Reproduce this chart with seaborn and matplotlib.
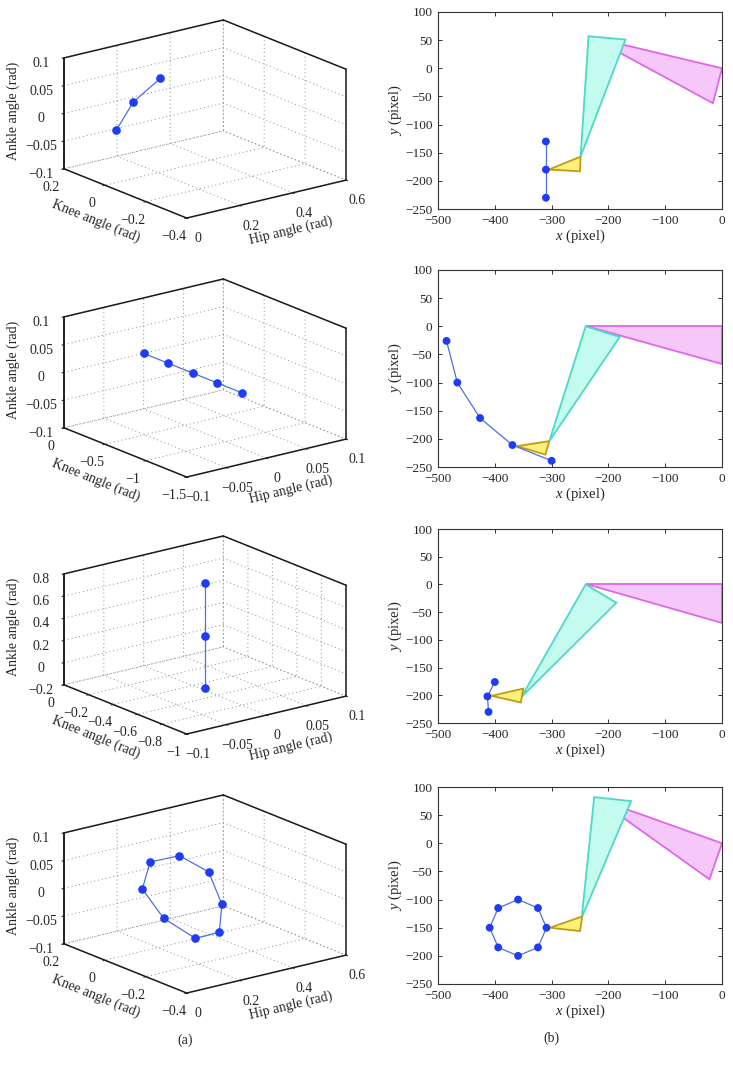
"""
关节空间轨迹 (a) 与 像素空间腿部姿态 (b) 对比图
"""

import numpy as np
import matplotlib
matplotlib.use('Agg')
import matplotlib.pyplot as plt
import seaborn as sns
from mpl_toolkits.mplot3d import proj3d

# ---------------- 数据 ----------------
# (a) 关节角轨迹 (hip, knee, ankle)
hip_1 = [0.19, 0.23, 0.27]
knee_1 = [0.19, 0.16, 0.08]
ankle_1 = [-0.05, 0.0, 0.05]

hip_2 = [0.0, 0.0, 0.0, 0.0, 0.0]
knee_2 = [0.0, -0.3, -0.6, -0.9, -1.2]
ankle_2 = [0.0, 0.0, 0.0, 0.0, 0.0]

hip_3 = [0.0, 0.0, 0.0]
knee_3 = [-0.5, -0.5, -0.5]
ankle_3 = [0.77, 0.29, -0.18]

hip_4 = [0.25, 0.36, 0.41, 0.40, 0.31, 0.19, 0.11, 0.14]
knee_4 = [-0.04, -0.04, -0.04, -0.04, -0.04, -0.04, -0.04, -0.04]
ankle_4 = [0.066, 0.024, -0.04, -0.089, -0.09, -0.04, 0.022, 0.067]

# (b) 像素坐标: 蓝色点, 足(黄), 小腿(青), 大腿(品红)
pts_x_1 = [-310, -310, -310]
pts_y_1 = [-130, -180, -230]
foot_x_1 = [-305, -249, -250]
foot_y_1 = [-180, -157, -183]
shank_x_1 = [-249, -235, -170]
shank_y_1 = [-157, 57, 51]
thigh_x_1 = [-232, 0, -16]
thigh_y_1 = [56, 0, -62]

pts_x_2 = [-485, -466, -426, -369, -300]
pts_y_2 = [-26, -100, -163, -211, -239]
foot_x_2 = [-361, -304, -311]
foot_y_2 = [-213, -204, -228]
shank_x_2 = [-304, -240, -180]
shank_y_2 = [-204, 0, -19]
thigh_x_2 = [-240, 0, 0]
thigh_y_2 = [0, 0, -67]

pts_x_3 = [-400, -413, -411]
pts_y_3 = [-176, -202, -230]
foot_x_3 = [-406, -350, -354]
foot_y_3 = [-201, -188, -213]
shank_x_3 = [-353, -240, -186]
shank_y_3 = [-203, 0, -33]
thigh_x_3 = [-240, 0, 0]
thigh_y_3 = [0, 0, -69]

pts_x_4 = [-309, -324, -359, -394, -409, -394, -359, -324]
pts_y_4 = [-150, -115, -100, -115, -150, -185, -200, -185]
foot_x_4 = [-303, -246, -250]
foot_y_4 = [-150, -130, -156]
shank_x_4 = [-247, -225, -160]
shank_y_4 = [-132, 82, 75]
thigh_x_4 = [-222, 0, -22]
thigh_y_4 = [80, 0, -64]

# 坐标轴范围与刻度
hip_lim = [(0, 0.6), (-0.1, 0.1), (-0.1, 0.1), (0, 0.6)]
hip_ticks = [[0, 0.2, 0.4, 0.6], [-0.1, -0.05, 0, 0.05, 0.1],
             [-0.1, -0.05, 0, 0.05, 0.1], [0, 0.2, 0.4, 0.6]]
knee_lim = [(-0.4, 0.2), (-1.5, 0), (-1, 0), (-0.4, 0.2)]
knee_ticks = [[-0.4, -0.2, 0, 0.2], [-1.5, -1, -0.5, 0],
              [-1, -0.8, -0.6, -0.4, -0.2, 0], [-0.4, -0.2, 0, 0.2]]
ankle_lim = [(-0.1, 0.1), (-0.1, 0.1), (-0.2, 0.8), (-0.1, 0.1)]
ankle_ticks = [[-0.1, -0.05, 0, 0.05, 0.1], [-0.1, -0.05, 0, 0.05, 0.1],
               [-0.2, 0, 0.2, 0.4, 0.6, 0.8], [-0.1, -0.05, 0, 0.05, 0.1]]

# 颜色
DOT = '#1e3cf4'
LINE = '#4f6fe2'
SHANK_FACE, SHANK_EDGE = '#c4fbef', '#4ed8c8'
THIGH_FACE, THIGH_EDGE = '#f6c8fa', '#e066ea'
FOOT_FACE, FOOT_EDGE = '#fdf07c', '#c09c16'

sns.set_theme(style='ticks')
plt.rcParams['font.family'] = ['Liberation Serif', 'DejaVu Serif']
plt.rcParams['mathtext.fontset'] = 'custom'
plt.rcParams['mathtext.rm'] = 'Liberation Serif'
plt.rcParams['mathtext.it'] = 'Liberation Serif:italic'
plt.rcParams['axes.unicode_minus'] = True
plt.rcParams['grid.linestyle'] = (0, (1, 3))
plt.rcParams['grid.color'] = '#8a8a8a'
plt.rcParams['grid.linewidth'] = 0.7

FS = 10


def fmt(v):
    s = '%g' % v
    return s.replace('-', '\u2212')


def draw_joint(ax, i, hip, knee, ankle, closed=False):
    """绘制关节空间三维轨迹"""
    xs, ys, zs = np.array(hip), np.array(knee), np.array(ankle)
    if closed:
        xs, ys, zs = np.append(xs, xs[0]), np.append(ys, ys[0]), np.append(zs, zs[0])
    ax.plot(xs, ys, zs, color=LINE, lw=0.9)
    ax.plot(hip, knee, ankle, 'o', color=DOT, ms=5.2, lw=0)

    x0, x1 = hip_lim[i]
    y0, y1 = knee_lim[i]
    z0, z1 = ankle_lim[i]
    # 外框 (六边形轮廓)
    for (a, b) in [((x0, y1, z1), (x1, y1, z1)), ((x1, y1, z1), (x1, y0, z1)),
                   ((x0, y1, z0), (x0, y1, z1)), ((x1, y0, z0), (x1, y0, z1))]:
        ax.plot([a[0], b[0]], [a[1], b[1]], [a[2], b[2]], color='k', lw=1.1)

    ax.set_xlim(x0, x1)
    ax.set_ylim(y0, y1)
    ax.set_zlim(z0, z1)
    ax.set_xticks(hip_ticks[i])
    ax.set_xticklabels([fmt(v) for v in hip_ticks[i]])
    ax.set_yticks(knee_ticks[i])
    ax.set_yticklabels([fmt(v) for v in knee_ticks[i]])
    ax.set_zticks(ankle_ticks[i])
    ax.set_zticklabels([fmt(v) for v in ankle_ticks[i]])
    ax.set_xlabel('Hip angle (rad)', fontsize=FS, labelpad=1)
    ax.set_ylabel('Knee angle (rad)', fontsize=FS, labelpad=0)
    ax.set_zlabel('Ankle angle (rad)', fontsize=FS, labelpad=-1)
    ax.tick_params(axis='x', labelsize=FS, pad=2)
    ax.tick_params(axis='y', labelsize=FS, pad=1)
    ax.tick_params(axis='z', labelsize=FS, pad=1)

    ax.set_proj_type('ortho')
    ax.view_init(elev=18, azim=-127.6)
    ax.set_box_aspect((1, 1, 0.58))
    ax.patch.set_alpha(0)
    for axis in (ax.xaxis, ax.yaxis, ax.zaxis):
        axis.set_pane_color((1, 1, 1, 0))
        axis.line.set_color('k')
        axis.line.set_linewidth(1.1)
        axis._axinfo['tick']['inward_factor'] = 0.15
        axis._axinfo['tick']['outward_factor'] = 0.0
        axis._axinfo['tick']['linewidth'] = {True: 0.8, False: 0.5}
        axis._axinfo['tick']['color'] = 'k'


def draw_pixel(ax, px, py, fx, fy, sx, sy, tx, ty, closed=False):
    """绘制像素空间腿部姿态"""
    ax.fill(tx, ty, facecolor=THIGH_FACE, edgecolor=THIGH_EDGE, lw=1.3, zorder=2)
    ax.fill(sx, sy, facecolor=SHANK_FACE, edgecolor=SHANK_EDGE, lw=1.3, zorder=3)
    ax.fill(fx, fy, facecolor=FOOT_FACE, edgecolor=FOOT_EDGE, lw=1.3, zorder=4)
    lx, ly = np.array(px), np.array(py)
    if closed:
        lx, ly = np.append(lx, lx[0]), np.append(ly, ly[0])
    sns.lineplot(x=lx, y=ly, sort=False, estimator=None, color=LINE, lw=0.9, ax=ax, zorder=5)
    sns.scatterplot(x=px, y=py, color=DOT, s=32, edgecolor='none', ax=ax, zorder=6)

    ax.set_xlim(-500, 0)
    ax.set_ylim(-250, 100)
    ax.set_xticks(np.arange(-500, 1, 100))
    ax.set_xticklabels([fmt(v) for v in np.arange(-500, 1, 100)])
    ax.set_yticks(np.arange(-250, 101, 50))
    ax.set_yticklabels([fmt(v) for v in np.arange(-250, 101, 50)])
    ax.tick_params(direction='in', length=3, width=0.7, top=True, right=True,
                   labelsize=9.5, pad=4, color='#333333')
    for sp in ax.spines.values():
        sp.set_color('#333333')
        sp.set_linewidth(0.8)
    ax.set_xlabel('$x$ (pixel)', fontsize=FS + 0.5, labelpad=1)
    ax.set_ylabel('$y$ (pixel)', fontsize=FS + 0.5, labelpad=1)


W, H = 733, 1066
fig = plt.figure(figsize=(W / 100, H / 100), dpi=100)

# 右列二维坐标轴位置 (像素)
right_rows = [(12, 209), (270, 467), (529, 723), (787, 984)]
# 左列三维框目标中心 (像素)
left_centers = [(205, 119), (205, 378), (205, 635), (205, 894)]
target_w = 282

joint_data = [(hip_1, knee_1, ankle_1), (hip_2, knee_2, ankle_2),
              (hip_3, knee_3, ankle_3), (hip_4, knee_4, ankle_4)]
pixel_data = [(pts_x_1, pts_y_1, foot_x_1, foot_y_1, shank_x_1, shank_y_1, thigh_x_1, thigh_y_1),
              (pts_x_2, pts_y_2, foot_x_2, foot_y_2, shank_x_2, shank_y_2, thigh_x_2, thigh_y_2),
              (pts_x_3, pts_y_3, foot_x_3, foot_y_3, shank_x_3, shank_y_3, thigh_x_3, thigh_y_3),
              (pts_x_4, pts_y_4, foot_x_4, foot_y_4, shank_x_4, shank_y_4, thigh_x_4, thigh_y_4)]

axes3d = []
for i in range(4):
    top, bot = right_rows[i]
    ax3 = fig.add_axes([0.0, 1 - (top + 240) / H, 0.5, 240 / H], projection='3d')
    draw_joint(ax3, i, *joint_data[i], closed=(i == 3))
    axes3d.append(ax3)

    ax2 = fig.add_axes([438 / W, 1 - bot / H, (722 - 438) / W, (bot - top) / H])
    draw_pixel(ax2, *pixel_data[i], closed=(i == 3))

# 调整三维坐标轴位置, 使盒子落在目标区域
fig.canvas.draw()
for i, ax3 in enumerate(axes3d):
    x0, x1 = ax3.get_xlim()
    y0, y1 = ax3.get_ylim()
    z0, z1 = ax3.get_zlim()
    cx = np.array([x0, x1, x0, x1, x0, x1, x0, x1])
    cy = np.array([y0, y0, y1, y1, y0, y0, y1, y1])
    cz = np.array([z0, z0, z0, z0, z1, z1, z1, z1])
    M = ax3.get_proj()
    px, py, _ = proj3d.proj_transform(cx, cy, cz, M)
    disp = ax3.transData.transform(np.column_stack([px, py]))
    w = disp[:, 0].max() - disp[:, 0].min()
    hc = np.array([(disp[:, 0].max() + disp[:, 0].min()) / 2,
                   (disp[:, 1].max() + disp[:, 1].min()) / 2])
    ac = ax3.transAxes.transform((0.5, 0.5))
    bb = ax3.get_position()
    k = target_w / w
    tc = np.array([left_centers[i][0], H - left_centers[i][1]])
    nc = tc - k * (hc - ac)
    nw, nh = bb.width * k, bb.height * k
    ax3.set_position([nc[0] / W - nw / 2, nc[1] / H - nh / 2, nw, nh])

fig.text(185 / W, 1 - 1040 / H, '(a)', ha='center', va='center', fontsize=FS)
fig.text(551 / W, 1 - 1038 / H, '(b)', ha='center', va='center', fontsize=FS)

fig.savefig('out.png', dpi=100)
plt.close(fig)
